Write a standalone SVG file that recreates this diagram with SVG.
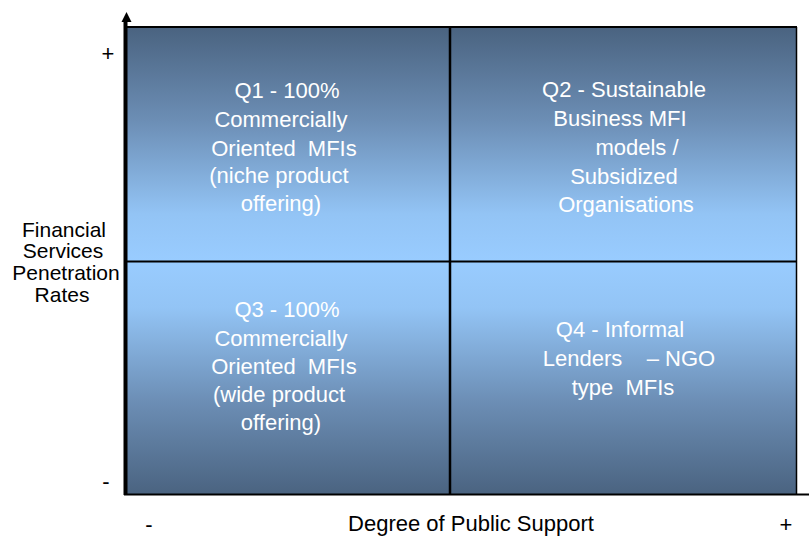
<svg xmlns="http://www.w3.org/2000/svg" width="809" height="537" viewBox="0 0 809 537">
<style>
.q{font-family:"Liberation Sans",Arial,sans-serif;font-size:22px;fill:#ffffff;text-anchor:middle;white-space:pre}
.lab{font-family:"Liberation Sans",Arial,sans-serif;font-size:21px;fill:#000;text-anchor:middle}
.sign{font-family:"Liberation Sans",Arial,sans-serif;font-size:22px;fill:#000;text-anchor:middle}
.div{stroke:#000;fill:none}
</style>
<defs>
<linearGradient id="gTop" x1="0" y1="0" x2="0" y2="1">
<stop offset="0" stop-color="#4a6380"/>
<stop offset="0.4" stop-color="#6c8eb5"/>
<stop offset="0.8" stop-color="#93c4f5"/>
<stop offset="1" stop-color="#99ccff"/>
</linearGradient>
<linearGradient id="gBot" x1="0" y1="0" x2="0" y2="1">
<stop offset="0" stop-color="#99ccff"/>
<stop offset="0.2" stop-color="#93c4f5"/>
<stop offset="0.6" stop-color="#6c8eb5"/>
<stop offset="1" stop-color="#4a6380"/>
</linearGradient>
</defs>
<g id="q1">
<rect x="127" y="27" width="323" height="234" fill="url(#gTop)"/>
<text class="q" x="287" y="98">Q1 - 100%</text>
<text class="q" x="281" y="127">Commercially</text>
<text class="q" x="284" y="156" xml:space="preserve">Oriented  MFIs</text>
<text class="q" x="279" y="183">(niche product</text>
<text class="q" x="281" y="211">offering)</text>
</g>
<g id="q2">
<rect x="450" y="27" width="347" height="234" fill="url(#gTop)"/>
<text class="q" x="624" y="97">Q2 - Sustainable</text>
<text class="q" x="620" y="126">Business MFI</text>
<text class="q" x="637" y="155">models /</text>
<text class="q" x="624" y="184">Subsidized</text>
<text class="q" x="626" y="212">Organisations</text>
</g>
<g id="q3">
<rect x="127" y="261" width="323" height="234" fill="url(#gBot)"/>
<text class="q" x="287" y="317">Q3 - 100%</text>
<text class="q" x="281" y="346">Commercially</text>
<text class="q" x="284" y="374" xml:space="preserve">Oriented  MFIs</text>
<text class="q" x="279" y="402">(wide product</text>
<text class="q" x="281" y="430">offering)</text>
</g>
<g id="q4">
<rect x="450" y="261" width="347" height="234" fill="url(#gBot)"/>
<text class="q" x="620" y="337">Q4 - Informal</text>
<text class="q" x="629" y="366" xml:space="preserve">Lenders    – NGO</text>
<text class="q" x="623" y="395" xml:space="preserve">type  MFIs</text>
</g>
<g id="connectors">
<line class="div" x1="127" y1="27" x2="797" y2="27" stroke-width="2"/>
<line class="div" x1="796.5" y1="27" x2="796.5" y2="495" stroke="#1f2f40" stroke-width="1.5"/>
<line class="div" x1="450" y1="27" x2="450" y2="495" stroke-width="2.5"/>
<line class="div" x1="125" y1="261.5" x2="797" y2="261.5" stroke-width="2"/>
<line class="div" x1="124" y1="494.5" x2="809" y2="494.5" stroke-width="2"/>
<line class="div" x1="125.5" y1="20" x2="125.5" y2="495" stroke-width="4"/>
<polygon points="126.5,12 121.5,22 131.5,22" fill="#000"/>
</g>
<g id="labels">
<text class="lab" x="64" y="237">Financial</text>
<text class="lab" x="63" y="258">Services</text>
<text class="lab" x="66" y="280">Penetration</text>
<text class="lab" x="62" y="302">Rates</text>
<text class="lab" x="471" y="531" style="font-size:22px">Degree of Public Support</text>
<text class="sign" x="108" y="61">+</text>
<text class="sign" x="106" y="489">-</text>
<text class="sign" x="149" y="532">-</text>
<text class="sign" x="786" y="532">+</text>
</g>
</svg>
